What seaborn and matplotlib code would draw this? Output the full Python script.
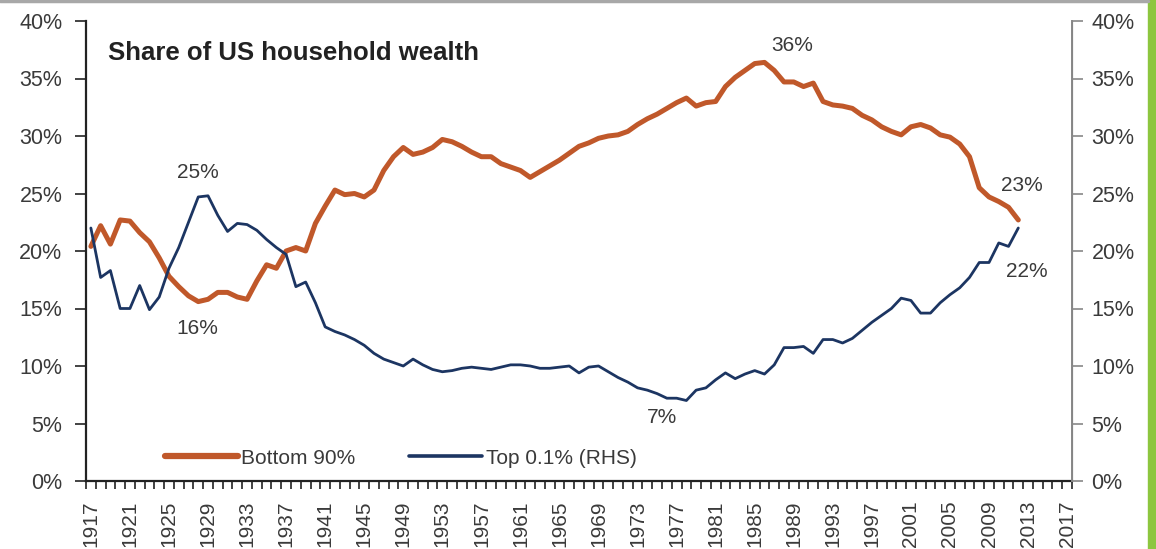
import numpy as np
import pandas as pd
import seaborn as sns
import matplotlib.pyplot as plt
from matplotlib.ticker import FuncFormatter, FixedLocator
from matplotlib.patches import Rectangle
from matplotlib.lines import Line2D

#========================================== data ===========================================#
years = list(range(1917, 2013))

bottom90 = [20.4, 22.2, 20.6, 22.7, 22.6, 21.6, 20.8, 19.4, 17.8, 16.9,   # 1917-1926
            16.1, 15.6, 15.8, 16.4, 16.4, 16.0, 15.8, 17.4, 18.8, 18.5,   # 1927-1936
            20.0, 20.3, 20.0, 22.4, 23.9, 25.3, 24.9, 25.0, 24.7, 25.3,   # 1937-1946
            27.0, 28.2, 29.0, 28.4, 28.6, 29.0, 29.7, 29.5, 29.1, 28.6,   # 1947-1956
            28.2, 28.2, 27.6, 27.3, 27.0, 26.4, 26.9, 27.4, 27.9, 28.5,   # 1957-1966
            29.1, 29.4, 29.8, 30.0, 30.1, 30.4, 31.0, 31.5, 31.9, 32.4,   # 1967-1976
            32.9, 33.3, 32.6, 32.9, 33.0, 34.3, 35.1, 35.7, 36.3, 36.4,   # 1977-1986
            35.7, 34.7, 34.7, 34.3, 34.6, 33.0, 32.7, 32.6, 32.4, 31.8,   # 1987-1996
            31.4, 30.8, 30.4, 30.1, 30.8, 31.0, 30.7, 30.1, 29.9, 29.3,   # 1997-2006
            28.2, 25.5, 24.7, 24.3, 23.8, 22.7]                           # 2007-2012

top01 = [22.0, 17.7, 18.3, 15.0, 15.0, 17.0, 14.9, 16.0, 18.5, 20.3,      # 1917-1926
         22.5, 24.7, 24.8, 23.1, 21.7, 22.4, 22.3, 21.8, 21.0, 20.3,      # 1927-1936
         19.7, 16.9, 17.3, 15.5, 13.4, 13.0, 12.7, 12.3, 11.8, 11.1,      # 1937-1946
         10.6, 10.3, 10.0, 10.6, 10.1, 9.7, 9.5, 9.6, 9.8, 9.9,           # 1947-1956
         9.8, 9.7, 9.9, 10.1, 10.1, 10.0, 9.8, 9.8, 9.9, 10.0,            # 1957-1966
         9.4, 9.9, 10.0, 9.5, 9.0, 8.6, 8.1, 7.9, 7.6, 7.2,               # 1967-1976
         7.2, 7.0, 7.9, 8.1, 8.8, 9.4, 8.9, 9.3, 9.6, 9.3,                # 1977-1986
         10.1, 11.6, 11.6, 11.7, 11.1, 12.3, 12.3, 12.0, 12.4, 13.1,      # 1987-1996
         13.8, 14.4, 15.0, 15.9, 15.7, 14.6, 14.6, 15.5, 16.2, 16.8,      # 1997-2006
         17.7, 19.0, 19.0, 20.7, 20.4, 22.0]                              # 2007-2012

tick_years = list(range(1917, 2018, 4))

callouts = [('25%', 1928.0, 26.8), ('16%', 1927.9, 13.3), ('36%', 1988.8, 37.9),
            ('7%', 1975.5, 5.5), ('23%', 2012.4, 25.7), ('22%', 2012.9, 18.2)]

df = pd.DataFrame({'year': years, 'Bottom 90%': bottom90, 'Top 0.1% (RHS)': top01})

#========================================== plot ===========================================#
sns.set_style('white')
plt.rcParams['font.family'] = ['Liberation Sans', 'DejaVu Sans']

orange = '#C0582A'
navy = '#1C3562'
txt = '#3a3a3a'

W, H = 1156, 549
fig = plt.figure(figsize=(W / 100, H / 100), dpi=100)
ax = fig.add_axes([86 / W, 1 - 481 / H, (1072 - 86) / W, (481 - 21) / H])
ax2 = ax.twinx()

sns.lineplot(data=df, x='year', y='Bottom 90%', ax=ax, color=orange, lw=3.6, legend=False)
sns.lineplot(data=df, x='year', y='Top 0.1% (RHS)', ax=ax2, color=navy, lw=2.0, legend=False)

pct = FuncFormatter(lambda v, p: f'{v:.0f}%')
for a in (ax, ax2):
    a.set_ylim(0, 40)
    a.set_yticks(range(0, 41, 5))
    a.yaxis.set_major_formatter(pct)
    a.set_xlim(1916.5, 2017.5)
    a.set_xlabel('')
    a.set_ylabel('')
    a.grid(False)

ax.set_xticks(tick_years)
ax.set_xticklabels([str(y) for y in tick_years], rotation=90)
ax.xaxis.set_minor_locator(FixedLocator(np.arange(1916.5, 2018, 1)))
ax.tick_params(axis='x', which='major', length=0, pad=14, labelsize=15, labelcolor=txt)
ax.tick_params(axis='x', which='minor', length=6, width=1.2, color='#222222', direction='out', bottom=True)
ax.tick_params(axis='y', length=8, width=1.2, color='#222222', direction='out', left=True,
               labelsize=15.5, labelcolor=txt, pad=9)
ax2.tick_params(axis='y', length=8, width=1.2, color='#888888', direction='out', right=True,
                labelsize=15.5, labelcolor=txt, pad=6)

ax.spines['top'].set_visible(False)
ax2.spines['top'].set_visible(False)
ax.spines['left'].set_color('#222222')
ax.spines['left'].set_linewidth(1.6)
ax.spines['bottom'].set_color('#222222')
ax.spines['bottom'].set_linewidth(1.6)
ax2.spines['right'].set_color('#888888')
ax2.spines['right'].set_linewidth(1.4)
ax2.spines['left'].set_visible(False)
ax2.spines['bottom'].set_visible(False)

ax.text(0.022, 0.957, 'Share of US household wealth', transform=ax.transAxes, fontsize=18.5,
        fontweight='bold', color='#222222', ha='left', va='top')

for label, x, y in callouts:
    ax.text(x, y, label, fontsize=15, color=txt, ha='center', va='center')

handles = [Line2D([], [], color=orange, lw=4.5), Line2D([], [], color=navy, lw=2.6)]
ax.legend(handles, ['Bottom 90%', 'Top 0.1% (RHS)'], loc='center left',
          bbox_to_anchor=((165 - 86) / 986, (481 - 458) / 460), ncol=2, frameon=False,
          fontsize=15, handlelength=3.5, handletextpad=0.15, columnspacing=2.6,
          borderpad=0, borderaxespad=0, labelcolor=txt)

# page decorations: grey rule along the top, green strip at the right
fig.add_artist(Line2D([0, 1148 / W], [1 - 1 / H, 1 - 1 / H], color='#a8a8a8', lw=2.5))
fig.add_artist(Rectangle((1148 / W, 0), 8 / W, 1, color='#8DC63F', transform=fig.transFigure))

fig.savefig('out.png', dpi=100)
